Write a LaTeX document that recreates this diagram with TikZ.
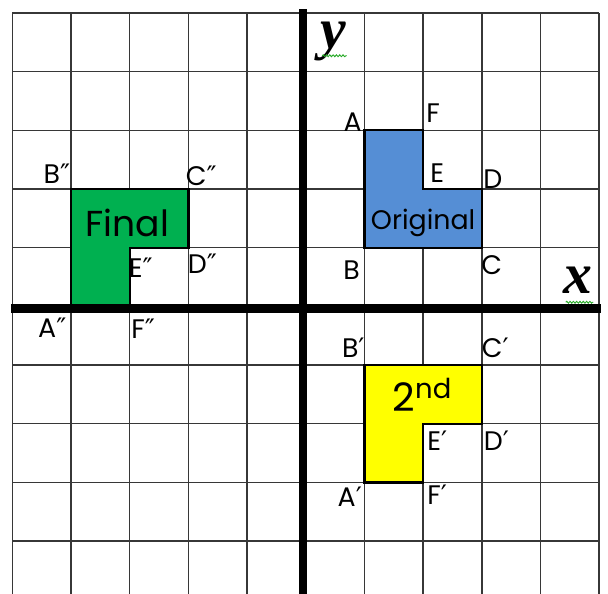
\documentclass[tikz,border=0pt]{standalone}
\usepackage{fontspec}
\setmainfont{Poppins}
\newfontfamily\primef{DejaVu Sans}
\newfontfamily\timesf{Liberation Serif}
\usetikzlibrary{decorations.pathmorphing}
\definecolor{origblue}{RGB}{85,142,213}
\definecolor{finalgreen}{RGB}{0,176,80}
\definecolor{secyellow}{RGB}{255,255,0}
\definecolor{gridgrey}{RGB}{55,55,55}
\definecolor{spellgreen}{RGB}{40,170,40}
\newcommand{\pr}{{\primef\char"2032}}
\newcommand{\dpr}{{\primef\char"2033}}
\tikzset{
  gridline/.style={draw=gridgrey, line width=0.7pt},
  axisline/.style={draw=black, line width=4pt},
  shapeline/.style={draw=black, line width=1.1pt, line join=miter},
  ptlabel/.style={inner sep=0pt, font=\fontsize{13}{14}\selectfont},
  biglabel/.style={inner sep=0pt},
  axislabel/.style={inner sep=0pt, font=\timesf\bfseries\itshape\fontsize{28}{30}\selectfont},
  spell/.style={draw=spellgreen, line width=0.45pt, decorate, decoration={snake, amplitude=0.45pt, segment length=1.6pt}}
}
\begin{document}
\begin{tikzpicture}
\useasboundingbox (-5.21,-4.90) rectangle (5.15,5.22);
\fill[white] (-5.21,-4.90) rectangle (5.15,5.22);
% grid
\foreach \i in {-5,...,5} \draw[gridline] (\i,-4.9) -- (\i,5);
\foreach \j in {-4,...,5} \draw[gridline] (-5,\j) -- (5,\j);
% shapes
\filldraw[shapeline, fill=origblue] (1,3) -- (2,3) -- (2,2) -- (3,2) -- (3,1) -- (1,1) -- cycle;
\filldraw[shapeline, fill=secyellow] (1,-3) -- (2,-3) -- (2,-2) -- (3,-2) -- (3,-1) -- (1,-1) -- cycle;
\filldraw[shapeline, fill=finalgreen] (-4,0) -- (-4,2) -- (-2,2) -- (-2,1) -- (-3,1) -- (-3,0) -- cycle;
% axes
\draw[axisline] (-0.045,-4.9) -- (-0.045,5.07);
\draw[axisline] (-5.02,-0.035) -- (5.03,-0.035);
% axis labels
\node[axislabel] (ylab) at (0.47,4.52) {y};
\node[axislabel] (xlab) at (4.64,0.45) {x};
\draw[spell] (0.28,4.27) -- (0.70,4.27);
\draw[spell] (4.43,0.07) -- (4.90,0.07);
% original labels
\node[ptlabel] (A) at (0.80,3.13) {A};
\node[ptlabel] (F) at (2.17,3.30) {F};
\node[ptlabel] (E) at (2.24,2.27) {E};
\node[ptlabel] (D) at (3.19,2.17) {D};
\node[ptlabel] (B) at (0.78,0.62) {B};
\node[ptlabel] (C) at (3.17,0.71) {C};
\node[biglabel, font=\fontsize{13}{15}\selectfont] (orig) at (2.0,1.42) {Original};
% final labels
\node[ptlabel] (B2) at (-4.24,2.26) {B\dpr};
\node[ptlabel] (C2) at (-1.78,2.22) {C\dpr};
\node[ptlabel] (E2) at (-2.81,0.65) {E\dpr};
\node[ptlabel] (D2) at (-1.76,0.72) {D\dpr};
\node[ptlabel] (A2) at (-4.32,-0.37) {A\dpr};
\node[ptlabel] (F2) at (-2.77,-0.38) {F\dpr};
\node[biglabel, font=\fontsize{17.5}{19}\selectfont] (final) at (-3.04,1.42) {Final};
% second labels
\node[ptlabel] (B1) at (0.81,-0.70) {B\pr};
\node[ptlabel] (C1) at (3.23,-0.71) {C\pr};
\node[ptlabel] (E1) at (2.24,-2.29) {E\pr};
\node[ptlabel] (D1) at (3.25,-2.29) {D\pr};
\node[ptlabel] (A1) at (0.75,-3.25) {A\pr};
\node[ptlabel] (F1) at (2.24,-3.21) {F\pr};
\node[biglabel, font=\fontsize{19}{21}\selectfont] (second) at (1.99,-1.50) {2\textsuperscript{nd}};
\end{tikzpicture}
\end{document}
